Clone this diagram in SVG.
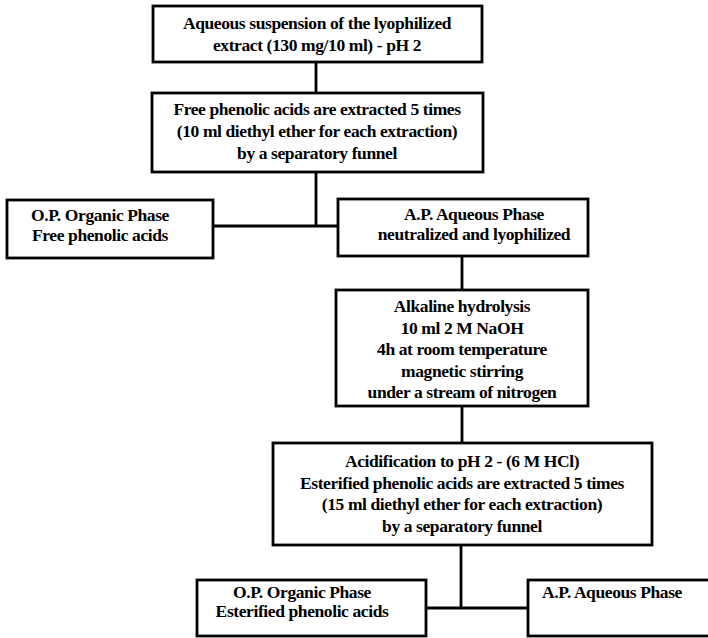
<svg xmlns="http://www.w3.org/2000/svg" width="708" height="638" viewBox="0 0 708 638">
<style>
.box{fill:#fff;stroke:#000;stroke-width:2.8}
.ln{fill:none;stroke:#000;stroke-width:2.8}
text{font-family:"Liberation Serif","Times New Roman",serif;font-weight:bold;font-size:17.5px;letter-spacing:-0.4px;fill:#000;text-anchor:middle}
</style>
<rect width="708" height="638" fill="#fff"/>
<g id="connectors">
<path class="ln" d="M316,62 V93"/>
<path class="ln" d="M316,172 V226 M213,226 H338"/>
<path class="ln" d="M462,256 V290"/>
<path class="ln" d="M462,406 V443"/>
<path class="ln" d="M461,545 V608 M426,608 H528"/>
</g>
<g id="n1">
<rect class="box" x="153" y="6" width="329" height="56"/>
<text x="317" y="29">Aqueous suspension of the lyophilized</text>
<text x="317" y="51">extract (130 mg/10 ml) - pH 2</text>
</g>
<g id="n2">
<rect class="box" x="152" y="93" width="331" height="79"/>
<text x="317" y="115">Free phenolic acids are extracted 5 times</text>
<text x="317" y="137">(10 ml diethyl ether for each extraction)</text>
<text x="317" y="159">by a separatory funnel</text>
</g>
<g id="n3">
<rect class="box" x="7" y="200" width="206" height="58"/>
<text x="100" y="221">O.P. Organic Phase</text>
<text x="100" y="241">Free phenolic acids</text>
</g>
<g id="n4">
<rect class="box" x="338" y="199" width="250" height="57"/>
<text x="474" y="220">A.P. Aqueous Phase</text>
<text x="474" y="240">neutralized and lyophilized</text>
</g>
<g id="n5">
<rect class="box" x="336" y="290" width="252" height="116"/>
<text x="462" y="312">Alkaline hydrolysis</text>
<text x="462" y="334">10 ml 2 M NaOH</text>
<text x="462" y="355">4h at room temperature</text>
<text x="462" y="377">magnetic stirring</text>
<text x="462" y="398">under a stream of nitrogen</text>
</g>
<g id="n6">
<rect class="box" x="273" y="443" width="379" height="102"/>
<text x="462" y="467">Acidification to pH 2 - (6 M HCl)</text>
<text x="462" y="489">Esterified phenolic acids are extracted 5 times</text>
<text x="462" y="510">(15 ml diethyl ether for each extraction)</text>
<text x="462" y="532">by a separatory funnel</text>
</g>
<g id="n7">
<rect class="box" x="197" y="580" width="229" height="56"/>
<text x="302" y="598">O.P. Organic Phase</text>
<text x="302" y="617">Esterified phenolic acids</text>
</g>
<g id="n8">
<rect class="box" x="528" y="580" width="190" height="56"/>
<text x="612" y="598">A.P. Aqueous Phase</text>
</g>
</svg>
